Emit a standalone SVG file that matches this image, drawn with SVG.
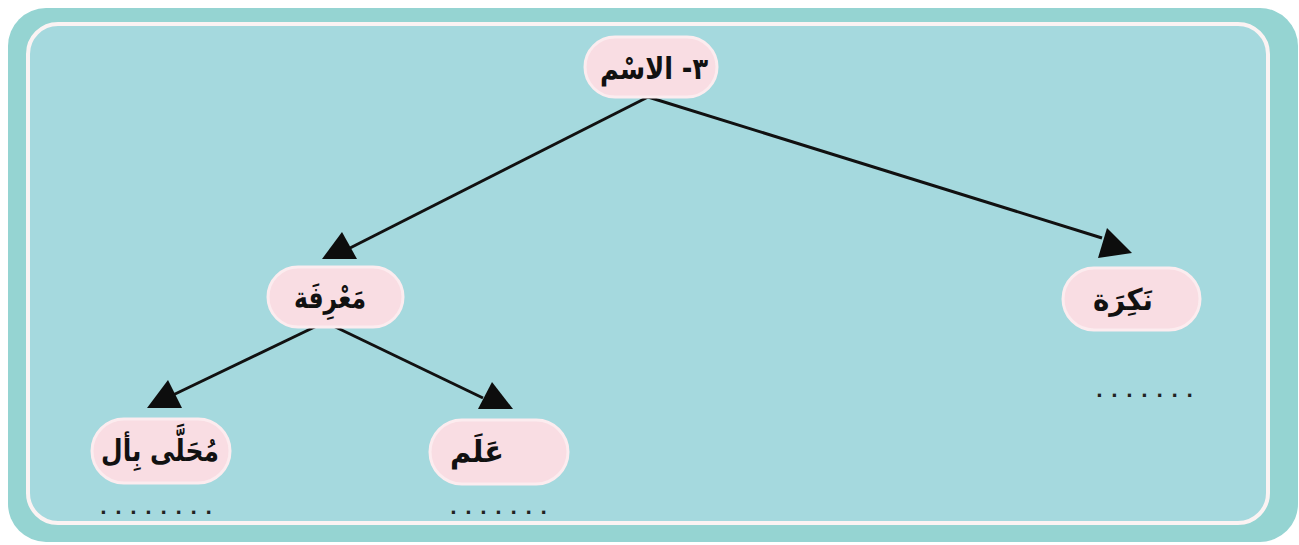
<svg xmlns="http://www.w3.org/2000/svg" width="1299" height="545" viewBox="0 0 1299 545">
<style>
.pill{fill:#f9dde3;stroke:#fcecef;stroke-width:3}
.lbl{font-family:"DejaVu Sans",sans-serif;font-weight:bold;font-size:30px;fill:#111;text-anchor:middle;direction:rtl}
.dots{font-family:"DejaVu Sans",sans-serif;font-weight:bold;font-size:18px;fill:#222;letter-spacing:8.2px}
.ln{stroke:#111;stroke-width:3;fill:none}
.ah{fill:#0d0d0d}
</style>
<rect x="0" y="0" width="1299" height="545" fill="#ffffff"/>
<rect x="8" y="8" width="1290" height="534" rx="38" fill="#95d4d2"/>
<rect x="28" y="24" width="1240" height="499" rx="30" fill="#a5d9de" stroke="#fbf3f3" stroke-width="4"/>
<g id="connectors">
<line class="ln" x1="648" y1="97" x2="350" y2="248"/>
<polygon class="ah" points="342,232 322,259 357,259"/>
<line class="ln" x1="648" y1="97" x2="1102" y2="238"/>
<polygon class="ah" points="1107,228 1098,258 1132,253"/>
<line class="ln" x1="325" y1="322" x2="173" y2="395"/>
<polygon class="ah" points="168,380 147,408 182,408"/>
<line class="ln" x1="325" y1="322" x2="483" y2="398"/>
<polygon class="ah" points="492,382 478,409 513,409"/>
</g>
<g id="node-ism">
<rect class="pill" x="585" y="37" width="132" height="60" rx="30"/>
<text class="lbl" x="654" y="79" textLength="108" lengthAdjust="spacingAndGlyphs">٣- الاسْم</text>
</g>
<g id="node-marifa">
<rect class="pill" x="268" y="267" width="135" height="60" rx="30"/>
<text class="lbl" x="330" y="308" textLength="72" lengthAdjust="spacingAndGlyphs">مَعْرِفَة</text>
</g>
<g id="node-nakira">
<rect class="pill" x="1063" y="268" width="137" height="62" rx="31"/>
<text class="lbl" x="1123" y="310" textLength="60" lengthAdjust="spacingAndGlyphs">نَكِرَة</text>
</g>
<g id="node-muhalla">
<rect class="pill" x="92" y="419" width="138" height="64" rx="32"/>
<text class="lbl" x="160" y="461" textLength="118" lengthAdjust="spacingAndGlyphs">مُحَلَّى بِأل</text>
<text class="dots" x="100" y="514">........</text>
</g>
<g id="node-alam">
<rect class="pill" x="430" y="420" width="138" height="64" rx="32"/>
<text class="lbl" x="477" y="462" textLength="54" lengthAdjust="spacingAndGlyphs">عَلَم</text>
<text class="dots" x="450" y="514">.......</text>
</g>
<g id="nakira-dots">
<text class="dots" x="1096" y="397">.......</text>
</g>
</svg>
